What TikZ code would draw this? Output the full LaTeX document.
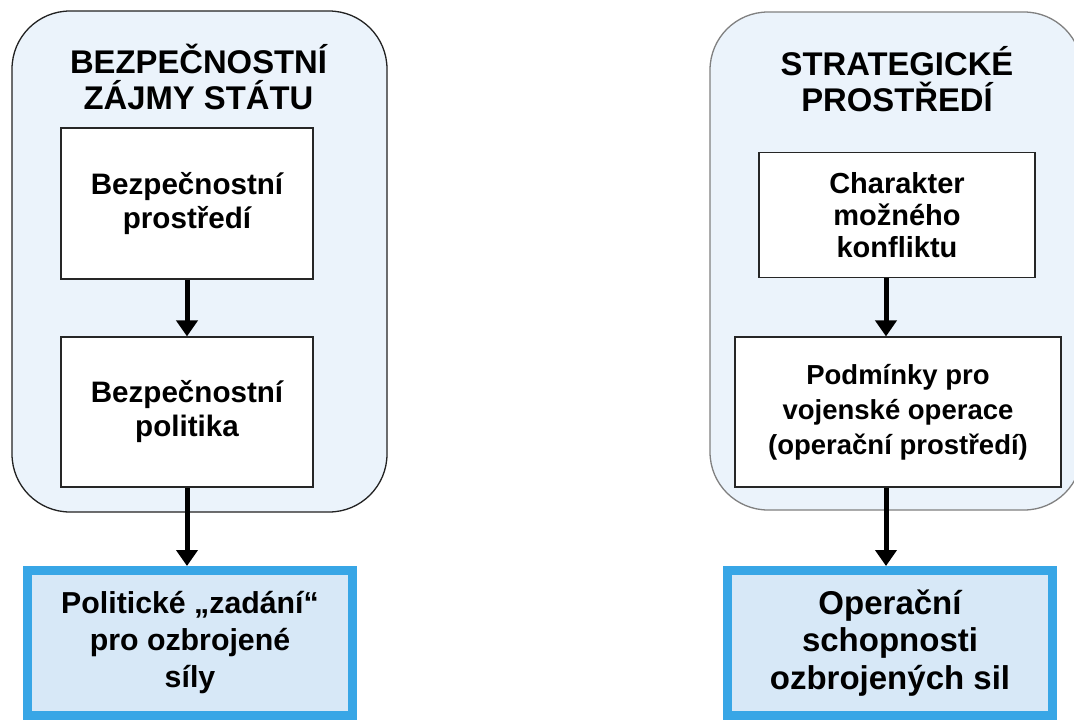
\documentclass[tikz,border=0pt]{standalone}
\usepackage{fontspec}
\setmainfont{Liberation Sans}
\usetikzlibrary{arrows.meta}
\definecolor{contfill}{HTML}{EBF3FB}
\definecolor{outfill}{HTML}{D7E8F7}
\definecolor{outblue}{HTML}{38A6E6}
\definecolor{leftline}{HTML}{222222}
\definecolor{rightline}{HTML}{808080}
\begin{document}
\begin{tikzpicture}[x=1pt,y=-1pt,
  container/.style={draw, rounded corners=58pt, fill=contfill, line width=1.3pt, inner sep=0pt},
  titletext/.style={inner sep=0pt, align=center, font=\bfseries\fontsize{32.8}{36}\selectfont},
  innerbox/.style={draw=black!85, fill=white, line width=1.2pt, inner sep=0pt, align=center},
  outbox/.style={draw=outblue, fill=outfill, line width=9pt, inner sep=0pt, align=center},
  arr/.style={line width=5pt, -{Triangle[width=21pt,length=16pt]}}
]
\clip (0,0) rectangle (1074,720);
\fill[white] (0,0) rectangle (1074,720);

% left column
\node[container, draw=leftline, minimum width=375pt, minimum height=501pt] (Lc) at (199.5,261.5) {};
\node[titletext] (Lt) at (198.5,77) {BEZPEČNOSTNÍ\\ZÁJMY STÁTU};
\node[innerbox, minimum width=252pt, minimum height=151pt, font=\bfseries\fontsize{29.6}{34}\selectfont] (L1) at (187,203.5) {Bezpečnostní\\prostředí};
\node[innerbox, minimum width=252pt, minimum height=150pt, font=\bfseries\fontsize{29.6}{34}\selectfont] (L2) at (187,412) {Bezpečnostní\\politika};
\node[outbox, minimum width=325pt, minimum height=145pt, font=\bfseries\fontsize{30.3}{37}\selectfont] (L3) at (190,643) {Politické „zadání“\\pro ozbrojené\\síly};
\coordinate (lx) at (187,0);
\draw[arr] (L1.south) -- (L2.north);
\draw[arr] (L2.south) -- (L3.north -| lx);

% right column
\node[container, draw=rightline, minimum width=372pt, minimum height=498pt] (Rc) at (896,261) {};
\node[titletext] (Rt) at (897,79) {STRATEGICKÉ\\PROSTŘEDÍ};
\node[innerbox, minimum width=276pt, minimum height=125pt, font=\bfseries\fontsize{29}{32}\selectfont] (R1) at (897,215) {Charakter\\možného\\konfliktu};
\node[innerbox, minimum width=326pt, minimum height=150pt, font=\bfseries\fontsize{27.5}{35}\selectfont] (R2) at (898,412) {Podmínky pro\\vojenské operace\\(operační prostředí)};
\node[outbox, minimum width=325pt, minimum height=145pt, font=\bfseries\fontsize{33}{37.5}\selectfont] (R3) at (890,643) {Operační\\schopnosti\\ozbrojených sil};
\coordinate (rx) at (886,0);
\draw[arr] (R1.south -| rx) -- (R2.north -| rx);
\draw[arr] (R2.south -| rx) -- (R3.north -| rx);
\end{tikzpicture}
\end{document}
